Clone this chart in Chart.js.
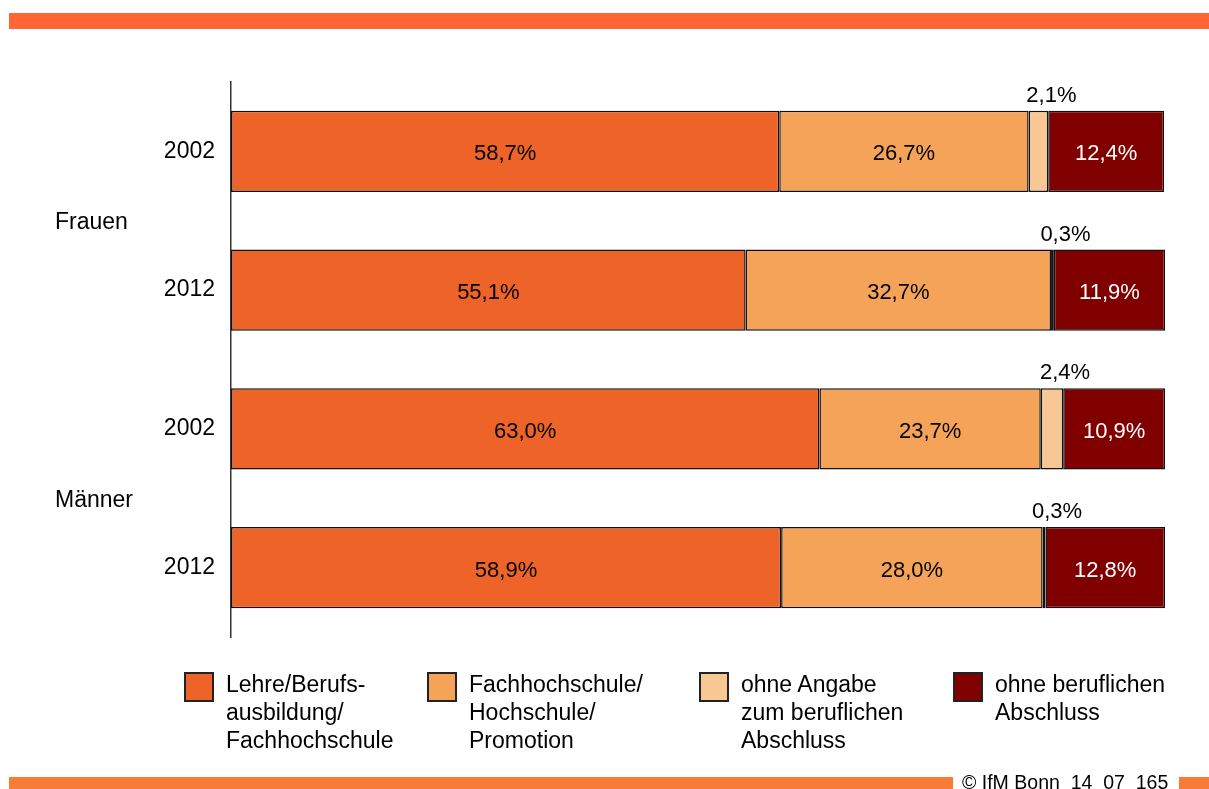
<!DOCTYPE html>
<html>
<head>
<meta charset="utf-8">
<script src="https://cdn.jsdelivr.net/npm/chart.js"></script>
<style>
body { margin:0; background:#fff; font-family:'Liberation Sans', Arial, sans-serif; }
#wrap { position:relative; width:1209px; height:789px; overflow:hidden; }
#chart { position:absolute; left:0; top:0; }
.topbar { position:absolute; left:9px; right:0; top:13px; height:16px; background:#ff6633; }
.footbar { position:absolute; top:777px; height:12px; background:#f77d37; }
.foottext { position:absolute; left:962px; top:771px; font-size:19.5px; line-height:22px; white-space:pre; color:#000; }
.leg { position:absolute; top:670px; }
.leg .box { position:absolute; left:0; top:2px; width:30px; height:30px; box-sizing:border-box; border:2px solid #222; }
.leg .txt { position:absolute; left:42px; top:0; font-size:23px; line-height:28px; white-space:pre; color:#000; }
</style>
</head>
<body>
<div id="wrap">
  <div class="topbar"></div>
  <canvas id="chart" width="1209" height="789"></canvas>
  <div id="legend"></div>
  <div class="footbar" style="left:9px;width:944px"></div>
  <div class="footbar" style="left:1179px;width:30px"></div>
  <div class="foottext">© IfM Bonn  14  07  165</div>
</div>
<script>
// Werte aus der Grafik
var categories = ['2002', '2012', '2002', '2012'];
var groups = ['Frauen', 'Männer'];
var lehre = [58.7, 55.1, 63.0, 58.9];
var hochschule = [26.7, 32.7, 23.7, 28.0];
var ohneAngabe = [2.1, 0.3, 2.4, 0.3];
var ohneAbschluss = [12.4, 11.9, 10.9, 12.8];
var seriesNames = [
  'Lehre/Berufs-\nausbildung/\nFachhochschule',
  'Fachhochschule/\nHochschule/\nPromotion',
  'ohne Angabe\nzum beruflichen\nAbschluss',
  'ohne beruflichen\nAbschluss'
];

Chart.defaults.font.family = "'Liberation Sans', Arial, sans-serif";

function fmt(v) {
  return v.toFixed(1).replace('.', ',') + '%';
}

// Prozentwerte in/ueber den Balken
var valueLabels = {
  id: 'valueLabels',
  afterDatasetsDraw: function(chart) {
    var ctx = chart.ctx;
    ctx.save();
    ctx.font = "22px 'Liberation Sans', Arial, sans-serif";
    ctx.textAlign = 'center';
    ctx.textBaseline = 'middle';
    chart.data.datasets.forEach(function(ds, i) {
      chart.getDatasetMeta(i).data.forEach(function(bar, j) {
        var v = ds.data[j];
        var cx = (bar.x + bar.base) / 2;
        if (v < 5) {
          ctx.fillStyle = '#000';
          ctx.fillText(fmt(v), cx + 13, bar.y - bar.height / 2 - 15);
        } else {
          ctx.fillStyle = ds.labelColor;
          ctx.fillText(fmt(v), cx, bar.y + 3);
        }
      });
    });
    ctx.restore();
  }
};

// Gruppenbeschriftung Frauen / Maenner
var groupLabels = {
  id: 'groupLabels',
  afterDraw: function(chart) {
    var ctx = chart.ctx;
    var y = chart.scales.y;
    ctx.save();
    ctx.font = "23px 'Liberation Sans', Arial, sans-serif";
    ctx.fillStyle = '#000';
    ctx.textAlign = 'left';
    ctx.textBaseline = 'middle';
    groups.forEach(function(g, k) {
      var mid = (y.getPixelForValue(k * 2) + y.getPixelForValue(k * 2 + 1)) / 2;
      ctx.fillText(g, 55, mid + 2);
    });
    ctx.restore();
  }
};

var ctx = document.getElementById('chart').getContext('2d');
var chart = new Chart(ctx, {
  type: 'bar',
  data: {
    labels: categories,
    datasets: [
      { label: seriesNames[0], data: lehre, backgroundColor: '#ee6328', labelColor: '#000' },
      { label: seriesNames[1], data: hochschule, backgroundColor: '#f4a359', labelColor: '#000' },
      { label: seriesNames[2], data: ohneAngabe, backgroundColor: '#f9c794', labelColor: '#000' },
      { label: seriesNames[3], data: ohneAbschluss, backgroundColor: '#800000', labelColor: '#fff' }
    ]
  },
  options: {
    indexAxis: 'y',
    responsive: false,
    animation: false,
    devicePixelRatio: 1,
    datasets: {
      bar: {
        borderColor: '#111',
        borderWidth: 1.5,
        borderSkipped: false,
        barPercentage: 0.585,
        categoryPercentage: 1
      }
    },
    layout: { padding: { left: 0, right: 44, top: 82, bottom: 152 } },
    scales: {
      x: { stacked: true, min: 0, max: 100, display: false },
      y: {
        stacked: true,
        grid: { display: false, drawTicks: false },
        border: { display: true, color: '#333', width: 1.5 },
        ticks: { color: '#000', font: { size: 23 }, padding: 16 },
        afterFit: function(scale) { scale.width = 231; }
      }
    },
    plugins: {
      legend: { display: false },
      tooltip: { enabled: false }
    }
  },
  plugins: [valueLabels, groupLabels]
});

// Legende als HTML aus den Datensaetzen
var legendLefts = [184, 427, 699, 953];
var legendEl = document.getElementById('legend');
chart.data.datasets.forEach(function(ds, i) {
  var item = document.createElement('div');
  item.className = 'leg';
  item.style.left = legendLefts[i] + 'px';
  var box = document.createElement('div');
  box.className = 'box';
  box.style.background = ds.backgroundColor;
  var txt = document.createElement('div');
  txt.className = 'txt';
  txt.textContent = ds.label;
  item.appendChild(box);
  item.appendChild(txt);
  legendEl.appendChild(item);
});
</script>
</body>
</html>
